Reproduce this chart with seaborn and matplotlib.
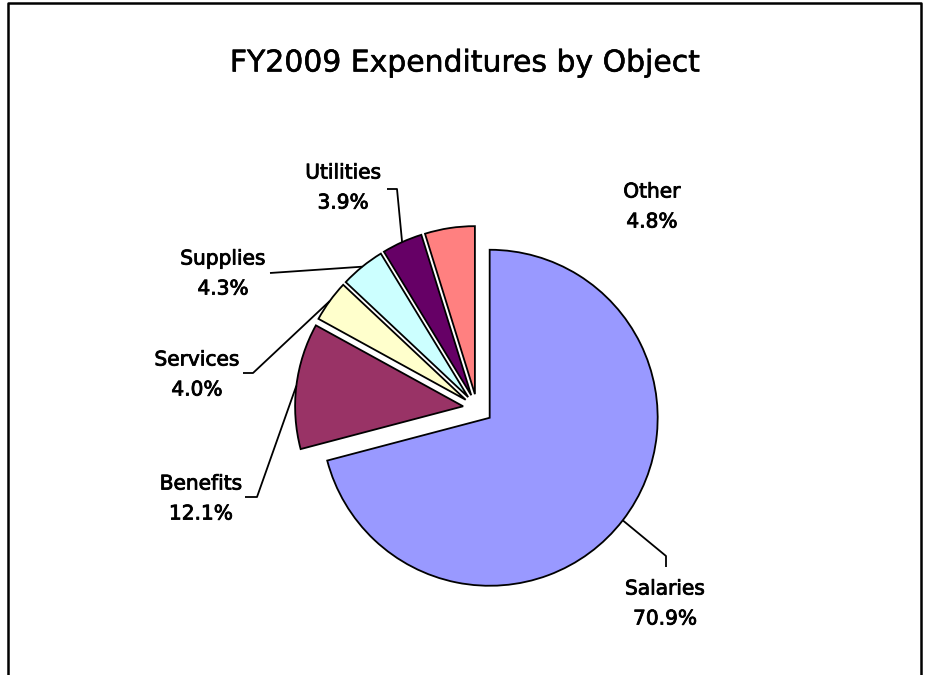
import matplotlib
matplotlib.use("Agg")
import matplotlib.pyplot as plt
import matplotlib.patheffects as pe
import seaborn as sns
import numpy as np

# ---- data ----
categories = ["Salaries", "Benefits", "Services", "Supplies", "Utilities", "Other"]
shares = [70.9, 12.1, 4.0, 4.3, 3.9, 4.8]
colors = ["#9999FF", "#993366", "#FFFFCC", "#CCFFFF", "#660066", "#FF8080"]
title = "FY2009 Expenditures by Object"

# ---- layout (pixels, y down) ----
W, H = 927, 675
center_px = (477, 408)
radius = 168
explode_px = [16, 14, 14, 14, 14, 14]
label_pos = {
    "Salaries": (665, 604),
    "Benefits": (201, 499),
    "Services": (197, 375),
    "Supplies": (223, 274),
    "Utilities": (343, 188),
    "Other": (652, 207),
}
leader_rest = {  # points after the anchor on the wedge
    "Salaries": [(666, 556), (666, 567)],
    "Benefits": [(257, 497), (245, 497)],
    "Services": [(253, 373), (243, 373)],
    "Supplies": [(270, 273)],
    "Utilities": [(397, 189), (387, 189)],
}

sns.set_theme(style="white")
plt.rcParams["font.family"] = ["DejaVu Sans"]

fig = plt.figure(figsize=(W / 100, H / 100), dpi=100)
ax = fig.add_axes([0, 0, 1, 1])

def Y(p):
    return H - p

wedges, _ = ax.pie(
    shares, colors=colors, explode=explode_px, startangle=90, counterclock=False,
    radius=radius, center=(center_px[0], Y(center_px[1])),
    wedgeprops=dict(edgecolor="black", linewidth=1.3),
    frame=True,
)
ax.set_xlim(0, W)
ax.set_ylim(0, H)
ax.set_aspect("auto")
ax.axis("off")

thick = [pe.withStroke(linewidth=0.6, foreground="black")]
for cat, val, w in zip(categories, shares, wedges):
    lx, ly = label_pos[cat]
    ax.text(lx, Y(ly - 15), cat, ha="center", va="center", fontsize=14.5,
            color="black", path_effects=thick)
    ax.text(lx, Y(ly + 15), f"{val:.1f}%", ha="center", va="center", fontsize=14.5,
            color="black", path_effects=thick)
    if cat in leader_rest:
        tm = np.deg2rad((w.theta1 + w.theta2) / 2)
        cx, cy = w.center
        ax0 = cx + w.r * np.cos(tm)
        ay0 = cy + w.r * np.sin(tm)
        xs = [ax0] + [p[0] for p in leader_rest[cat]]
        ys = [ay0] + [Y(p[1]) for p in leader_rest[cat]]
        ax.plot(xs, ys, color="black", lw=1.3, solid_capstyle="butt")

ax.text(465, Y(63), title, ha="center", va="center", fontsize=21.5, color="black",
        path_effects=[pe.withStroke(linewidth=0.4, foreground="black")])

# outer frame (bottom edge outside the image)
ax.plot([8, 8, 921, 921], [-10, Y(3), Y(3), -10], color="black", lw=1.8, clip_on=False)

fig.savefig("out.png", dpi=100, facecolor="white")
